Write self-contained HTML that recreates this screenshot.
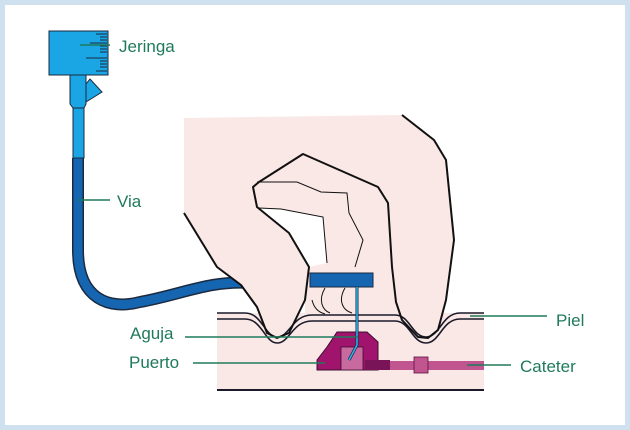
<!DOCTYPE html>
<html><head><meta charset="utf-8"><style>
html,body{margin:0;padding:0;background:#fff}
svg{display:block}
text{font-family:"Liberation Sans",sans-serif;font-size:17px;fill:#1f7a5c}
</style></head><body>
<svg width="630" height="430" viewBox="0 0 630 430" xmlns="http://www.w3.org/2000/svg">
<rect x="0" y="0" width="630" height="430" fill="#cfe1ef"/>
<rect x="5" y="5" width="620" height="420" fill="#fff"/>
<!-- tube (behind hand) -->
<path d="M78,158 L78,250 C78,300 110,310 140,302 C180,295 210,280 250,283" fill="none" stroke="#1b2a40" stroke-width="12"/>
<path d="M78,158 L78,250 C78,300 110,310 140,302 C180,295 210,280 250,283" fill="none" stroke="#1565b0" stroke-width="9"/>
<!-- skin box -->
<rect x="217" y="313" width="267" height="78" fill="#fae8e6"/>
<line x1="217" y1="390" x2="484" y2="390" stroke="#1a1a2a" stroke-width="2"/>
<!-- hand fill -->
<path d="M184,118 L402,115 L434,140 L446,160 L454,240 L446,300 L438,330 L428,338 L418,337 L402,320 L396,302 L392,267 L388,203 L378,187 L303,154 L259,182 L253,187 L257,207 L289,233 L309,267 L305,300 L289,333 L277,338 L267,333 L257,307 L241,285 L217,267 L184,213 Z" fill="#fae8e6"/>
<path d="M259,182 L303,154 L378,187 L388,203 L392,267 L396,302 L402,318 L305,318 L305,300 L309,267 L289,233 L257,207 L253,187 Z" fill="#fae8e6"/>
<path d="M259,208 L281,209 L323,217 L327,263 L309,267 L289,233 Z" fill="#fff"/>
<!-- skin waves -->
<path d="M217,313 L245,313 C262,313 265,337 277,337 C290,337 292,315 312,315 L395,315 C410,315 412,337 426,337 C440,337 442,313 460,313 L484,313" fill="none" stroke="#1a1a2a" stroke-width="1.6"/>
<path d="M217,319 L245,319 C262,319 265,343 277,343 C290,343 292,321 312,321 L395,321 C410,321 412,343 426,343 C440,343 442,319 460,319 L484,319" fill="none" stroke="#1a1a2a" stroke-width="1.6"/>
<!-- hand outline -->
<path d="M184,213 L217,267 L241,285 L257,307 L267,333 L277,338 L289,333 L305,300 L309,267 L289,233 L257,207 L253,187 L259,182 L303,154 L378,187 L388,203 L392,267 L396,302 L402,320 L418,337 L428,338 L438,330 L446,300 L454,240 L446,160 L434,140 L402,115" fill="none" stroke="#111" stroke-width="2" stroke-linejoin="round"/>
<path d="M257,182 L297,182 L321,192 L347,193 L349,213 L363,240 L355,267" fill="none" stroke="#111" stroke-width="1"/>
<path d="M259,208 L281,209 L323,217 L327,263" fill="none" stroke="#111" stroke-width="1"/>
<path d="M325,288 C318,300 322,310 330,313 M345,288 C338,300 342,310 352,313 M312,300 C314,308 318,312 325,314" fill="none" stroke="#111" stroke-width="1"/>
<!-- port -->
<path d="M337,332 L367,332 L378,342 L378,370 L317,370 L317,360 L327,347 Z" fill="#a0146e" stroke="#3a1030" stroke-width="1"/>
<rect x="341" y="347" width="22" height="23" fill="#c86aa0" stroke="#3a1030" stroke-width="0.8"/>
<rect x="365" y="360" width="25" height="10" fill="#7a1458"/>
<rect x="390" y="361" width="94" height="9" fill="#c05590"/>
<rect x="414" y="357" width="14" height="16" fill="#c05590" stroke="#5a1040" stroke-width="0.8"/>
<!-- bar and needle -->
<rect x="310" y="273" width="63" height="14" fill="#1565b0" stroke="#1b2a40" stroke-width="1"/>
<path d="M357,287 L357,345 L349,360" fill="none" stroke="#1b2a40" stroke-width="3"/>
<path d="M357,287 L357,345 L349,360" fill="none" stroke="#2ab0e8" stroke-width="1.6"/>
<!-- syringe -->
<rect x="49" y="31" width="59" height="44" fill="#1aa6e4" stroke="#1b2a40" stroke-width="1"/>
<g stroke="#1b2a40" stroke-width="1">
<line x1="96" y1="34" x2="107" y2="34"/><line x1="100" y1="37" x2="107" y2="37"/><line x1="100" y1="40" x2="107" y2="40"/><line x1="90" y1="43" x2="107" y2="43"/><line x1="100" y1="46" x2="107" y2="46"/><line x1="100" y1="49" x2="107" y2="49"/><line x1="100" y1="52" x2="107" y2="52"/><line x1="86" y1="58" x2="107" y2="58"/><line x1="100" y1="61" x2="107" y2="61"/><line x1="100" y1="64" x2="107" y2="64"/><line x1="100" y1="67" x2="107" y2="67"/><line x1="96" y1="71" x2="107" y2="71"/>
</g>
<path d="M70,75 L86,75 L86,104 L84,108 L73,108 L70,104 Z" fill="#1aa6e4" stroke="#1b2a40" stroke-width="1"/>
<path d="M86,84 L90,79 L102,92 L86,102 Z" fill="#1aa6e4" stroke="#1b2a40" stroke-width="1"/>
<rect x="73" y="108" width="11" height="50" fill="#1aa6e4" stroke="#1b2a40" stroke-width="1"/>
<!-- labels -->
<g stroke="#1f7a5c" stroke-width="1.5">
<line x1="80" y1="45" x2="110" y2="45"/>
<line x1="78" y1="200" x2="110" y2="200"/>
<line x1="185" y1="337" x2="358" y2="337"/>
<line x1="193" y1="363" x2="325" y2="363"/>
<line x1="470" y1="316" x2="547" y2="316"/>
<line x1="467" y1="365" x2="511" y2="365"/>
</g>
<text x="119" y="52">Jeringa</text>
<text x="117" y="207">Via</text>
<text x="130" y="339">Aguja</text>
<text x="129" y="368">Puerto</text>
<text x="556" y="326">Piel</text>
<text x="520" y="372">Cateter</text>
</svg>
</body></html>
